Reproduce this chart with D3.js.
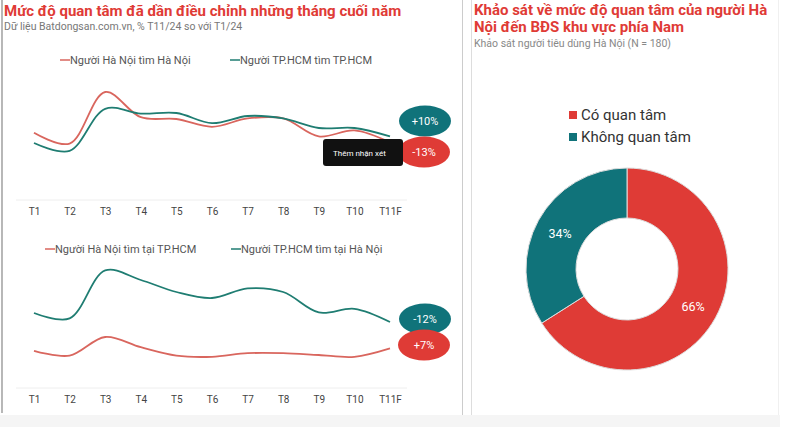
<!DOCTYPE html>
<html><head><meta charset="utf-8">
<script src="https://cdn.jsdelivr.net/npm/d3@7"></script>
<style>body{margin:0;background:#fff;}svg{display:block;font-family:Roboto,"Noto Sans",sans-serif;}</style>
</head><body>
<svg id="c" width="800" height="427"></svg>
<script>
const months = ["T1","T2","T3","T4","T5","T6","T7","T8","T9","T10","T11F"];
// chart 1 (index values)
const hnTimHN   = [56, 47, 90, 69, 67.5, 61, 68, 68, 53, 58, 48];
const hcmTimHCM = [47.5, 41, 76, 72, 72.5, 64, 70, 68, 60, 60, 53];
const chart1Series = ["Người Hà Nội tìm Hà Nội", "Người TP.HCM tìm TP.HCM"];
const chart1Badges = ["+10%", "-13%"];
// chart 2
const hnTaiHCM = [31, 27, 42.5, 34, 27, 26, 29, 29, 27.5, 26, 33];
const hcmTaiHN = [62.5, 58, 98, 90, 80, 75, 83, 80, 63, 66, 55];
const chart2Series = ["Người Hà Nội tìm tại TP.HCM", "Người TP.HCM tìm tại Hà Nội"];
const chart2Badges = ["-12%", "+7%"];
// donut
const donutLabels = ["Có quan tâm", "Không quan tâm"];
const donutValues = [66, 34];

const RED = "#df3b36", TEAL = "#10737a";
const LRED = "#d9665e", LTEAL = "#1f7d72";

const svg = d3.select("#c");

// background panels
svg.append("rect").attr("x",0).attr("y",415).attr("width",780).attr("height",12).attr("fill","#f5f5f5");
svg.append("line").attr("x1",2).attr("x2",2).attr("y1",0).attr("y2",413).attr("stroke","#888").attr("stroke-width",1.2);
svg.append("line").attr("x1",462.5).attr("x2",462.5).attr("y1",0).attr("y2",415).attr("stroke","#ccc");
svg.append("line").attr("x1",471.5).attr("x2",471.5).attr("y1",0).attr("y2",415).attr("stroke","#ddd");
svg.append("line").attr("x1",778.5).attr("x2",778.5).attr("y1",0).attr("y2",415).attr("stroke","#f0f0f0");

// titles
svg.append("text").attr("x",4).attr("y",16).attr("fill",RED).attr("font-weight","bold").attr("font-size",15)
  .text("Mức độ quan tâm đã dần điều chỉnh những tháng cuối năm");
svg.append("text").attr("x",4).attr("y",30).attr("fill","#777").attr("font-size",10.5)
  .text("Dữ liệu Batdongsan.com.vn, % T11/24 so với T1/24");
svg.append("text").attr("x",474).attr("y",15).attr("fill",RED).attr("font-weight","bold").attr("font-size",15)
  .text("Khảo sát về mức độ quan tâm của người Hà");
svg.append("text").attr("x",474).attr("y",32).attr("fill",RED).attr("font-weight","bold").attr("font-size",15)
  .text("Nội đến BĐS khu vực phía Nam");
svg.append("text").attr("x",474).attr("y",47).attr("fill","#888").attr("font-size",10.5)
  .text("Khảo sát người tiêu dùng Hà Nội (N = 180)");

const x = d3.scalePoint().domain(months).range([34, 390]);

function lineChart(opts){
  const g = svg.append("g");
  const y = d3.scaleLinear().domain([0,100]).range([opts.axisY, opts.axisY-120]);
  // axis
  g.append("line").attr("x1",16).attr("x2",407).attr("y1",opts.axisY).attr("y2",opts.axisY).attr("stroke","#eee");
  const ax = g.append("g").attr("transform",`translate(0,${opts.axisY})`)
    .call(d3.axisBottom(x).tickSize(0).tickPadding(8));
  ax.select(".domain").remove();
  ax.selectAll("text").attr("font-size",10).attr("fill","#444").attr("font-family","Roboto, sans-serif");
  const line = d3.line().x((d,i)=>x(months[i])).y(d=>y(d)).curve(d3.curveCatmullRom.alpha(0.5));
  opts.series.forEach(s=>{
    g.append("path").datum(s.values).attr("d",line).attr("fill","none").attr("stroke",s.color).attr("stroke-width",1.8);
  });
  // legend
  opts.legend.forEach(l=>{
    g.append("line").attr("x1",l.x).attr("x2",l.x+10).attr("y1",opts.legY).attr("y2",opts.legY).attr("stroke",l.color).attr("stroke-width",1.5);
    g.append("text").attr("x",l.x+10).attr("y",opts.legY).attr("dy","0.35em").attr("font-size",11).attr("fill","#555").text(l.text);
  });
  return {g, y};
}

const c1 = lineChart({axisY:200, legY:60,
  series:[{values:hnTimHN, color:LRED},{values:hcmTimHCM, color:LTEAL}],
  legend:[{x:60,color:LRED,text:chart1Series[0]},{x:230,color:LTEAL,text:chart1Series[1]}]});
const c2 = lineChart({axisY:388, legY:249,
  series:[{values:hnTaiHCM, color:LRED},{values:hcmTaiHN, color:LTEAL}],
  legend:[{x:45,color:LRED,text:chart2Series[0]},{x:231,color:LTEAL,text:chart2Series[1]}]});

function badge(cx, cy, color, txt){
  svg.append("ellipse").attr("cx",cx).attr("cy",cy).attr("rx",26).attr("ry",15.5).attr("fill",color);
  svg.append("text").attr("x",cx).attr("y",cy).attr("dy","0.35em").attr("text-anchor","middle")
    .attr("fill","#fff").attr("font-size",11).text(txt);
}
badge(425,121,TEAL,chart1Badges[0]);
badge(424,152,RED,chart1Badges[1]);
badge(425,319,TEAL,chart2Badges[0]);
badge(424,345,RED,chart2Badges[1]);

// tooltip
svg.append("rect").attr("x",323).attr("y",139).attr("width",80).attr("height",27).attr("rx",3).attr("fill","#111");
svg.append("text").attr("x",333).attr("y",153).attr("dy","0.35em").attr("fill","#fff").attr("font-size",8).text("Thêm nhận xét");

// donut
const cx = 627, cy = 269;
const pie = d3.pie().sort(null).value(d=>d)(donutValues);
const arc = d3.arc().innerRadius(51).outerRadius(101);
const dg = svg.append("g").attr("transform",`translate(${cx},${cy})`);
dg.selectAll("path").data(pie).join("path").attr("d",arc)
  .attr("fill",(d,i)=>[RED,TEAL][i]).attr("stroke","#ddd").attr("stroke-width",1);
const labPos = [[693,307],[560,234]];
pie.forEach((d,i)=>{
  svg.append("text").attr("x",labPos[i][0]).attr("y",labPos[i][1]).attr("dy","0.35em").attr("text-anchor","middle")
    .attr("fill","#fff").attr("font-size",12.5).text(donutValues[i]+"%");
});
// donut legend
donutLabels.forEach((t,i)=>{
  const ly = 115 + i*22;
  svg.append("rect").attr("x",569).attr("y",ly-4).attr("width",8).attr("height",8).attr("fill",[RED,TEAL][i]);
  svg.append("text").attr("x",581).attr("y",ly).attr("dy","0.35em").attr("font-size",15).attr("fill","#333").text(t);
});
</script>
</body></html>
